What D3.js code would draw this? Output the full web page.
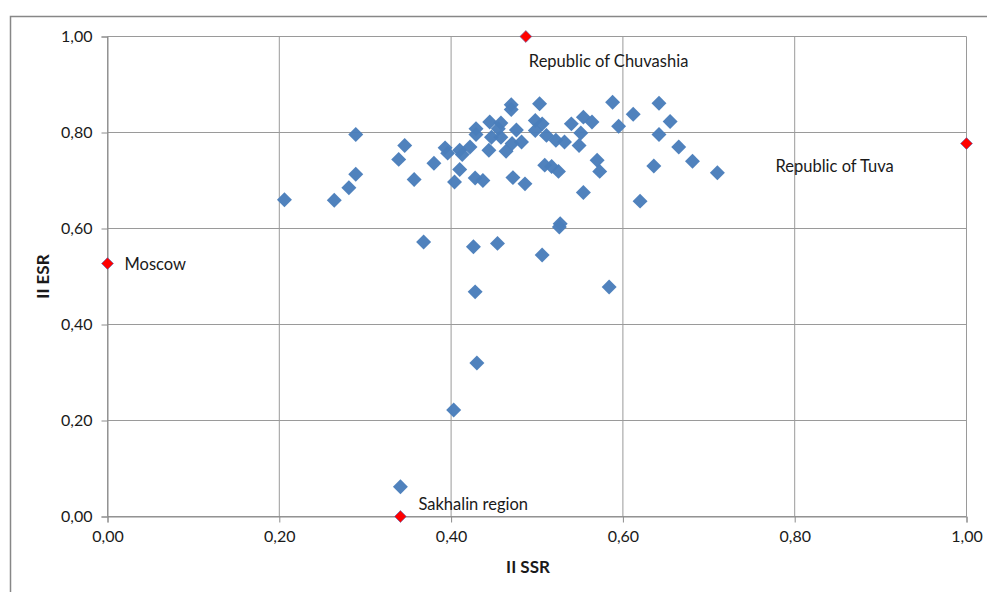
<!DOCTYPE html>
<html>
<head>
<meta charset="utf-8">
<script src="https://cdn.jsdelivr.net/npm/d3@7"></script>
<style>
  body { margin: 0; background: #fff; }
  text { font-family: Lato, "Open Sans", sans-serif; fill: #1a1a1a; }
</style>
</head>
<body>
<div id="chart"></div>
<script>
// regions (blue diamonds)
const ssr = [0.206, 0.264, 0.281, 0.289, 0.289, 0.339, 0.346, 0.357, 0.380, 0.393,
             0.396, 0.404, 0.410, 0.410, 0.413, 0.422, 0.429, 0.429, 0.428, 0.437,
             0.445, 0.447, 0.444, 0.458, 0.455, 0.458, 0.464, 0.470, 0.470, 0.471,
             0.476, 0.472, 0.482, 0.486, 0.498, 0.503, 0.498, 0.506, 0.511, 0.522,
             0.532, 0.509, 0.517, 0.525, 0.540, 0.554, 0.564, 0.551, 0.549, 0.570,
             0.573, 0.554, 0.588, 0.595, 0.612, 0.642, 0.655, 0.642, 0.665, 0.681,
             0.636, 0.710, 0.620, 0.527, 0.526, 0.506, 0.368, 0.426, 0.454, 0.428,
             0.584, 0.430, 0.403, 0.341];
const esr = [0.660, 0.659, 0.685, 0.713, 0.796, 0.744, 0.773, 0.702, 0.736, 0.768,
             0.757, 0.697, 0.723, 0.763, 0.754, 0.770, 0.808, 0.796, 0.705, 0.700,
             0.822, 0.790, 0.763, 0.820, 0.808, 0.790, 0.761, 0.858, 0.848, 0.777,
             0.805, 0.706, 0.780, 0.693, 0.825, 0.860, 0.804, 0.818, 0.794, 0.784,
             0.780, 0.732, 0.729, 0.719, 0.818, 0.832, 0.822, 0.799, 0.773, 0.742,
             0.719, 0.675, 0.863, 0.813, 0.838, 0.861, 0.823, 0.796, 0.770, 0.740,
             0.730, 0.716, 0.657, 0.610, 0.603, 0.545, 0.572, 0.562, 0.569, 0.468,
             0.478, 0.320, 0.222, 0.062];

// highlighted regions (red diamonds)
const redNames = ["Moscow", "Republic of Chuvashia", "Republic of Tuva", "Sakhalin region"];
const redSsr = [0.000, 0.487, 1.000, 0.341];
const redEsr = [0.527, 1.000, 0.777, 0.000];

const tickValues = [0, 0.2, 0.4, 0.6, 0.8, 1.0];
const xTitle = "II SSR";
const yTitle = "II ESR";

function main(){
  const W = 987, H = 592;
  const margin = {top: 36.5, left: 107.5};
  const width = 859, height = 480;

  const svg = d3.select("#chart")
      .append("svg")
      .attr("width", W)
      .attr("height", H);

  // outer chart frame
  svg.append("rect")
      .attr("x", 10.5).attr("y", 16.5)
      .attr("width", 1000).attr("height", 600)
      .attr("fill", "none")
      .attr("stroke", "#878787")
      .attr("stroke-width", 1.5);

  const g = svg.append("g")
      .attr("transform", `translate(${margin.left}, ${margin.top})`);

  const x = d3.scaleLinear().domain([0, 1]).range([0, width]);
  const y = d3.scaleLinear().domain([0, 1]).range([height, 0]);
  const fmt = d => d3.format(".2f")(d).replace(".", ",");

  // grid
  g.append("g").selectAll("line")
    .data(tickValues)
    .join("line")
      .attr("x1", d => x(d)).attr("x2", d => x(d))
      .attr("y1", 0).attr("y2", height)
      .attr("stroke", "#9a9a9a");
  g.append("g").selectAll("line")
    .data(tickValues)
    .join("line")
      .attr("y1", d => y(d)).attr("y2", d => y(d))
      .attr("x1", 0).attr("x2", width)
      .attr("stroke", "#9a9a9a");

  // axes
  const xAxis = g.append("g")
      .attr("transform", `translate(0, ${height})`)
      .call(d3.axisBottom(x).tickValues(tickValues).tickFormat(fmt).tickSize(6).tickPadding(8));
  const yAxis = g.append("g")
      .call(d3.axisLeft(y).tickValues(tickValues).tickFormat(fmt).tickSize(6).tickPadding(9));
  [xAxis, yAxis].forEach(a => {
    a.select(".domain").attr("stroke", "#8c8c8c");
    a.selectAll(".tick line").attr("stroke", "#8c8c8c");
    a.selectAll(".tick text")
      .style("font-family", "Lato, sans-serif")
      .style("font-size", "16px")
      .attr("fill", "#1a1a1a");
  });

  // axis titles
  svg.append("text")
      .attr("x", margin.left + width / 2 - 9)
      .attr("y", 573)
      .attr("text-anchor", "middle")
      .style("font-weight", "bold")
      .style("font-size", "17px")
      .text(xTitle);
  svg.append("text")
      .attr("transform", `translate(49, ${margin.top + height / 2}) rotate(-90)`)
      .attr("text-anchor", "middle")
      .style("font-weight", "bold")
      .style("font-size", "17px")
      .text(yTitle);

  // blue points
  const pts = ssr.map((d, i) => ({x: d, y: esr[i]}));
  g.append("g").selectAll("path")
    .data(pts)
    .join("path")
      .attr("d", d3.symbol(d3.symbolSquare, 112))
      .attr("transform", d => `translate(${x(d.x)}, ${y(d.y)}) rotate(45)`)
      .attr("fill", "#4a7ebb")
      .attr("fill-opacity", 0.97);

  // red points and labels
  const reds = redNames.map((n, i) => ({name: n, x: redSsr[i], y: redEsr[i]}));
  const labelOffsets = {"Moscow": [17, 6], "Republic of Chuvashia": [3, 30],
                        "Republic of Tuva": [-191, 28], "Sakhalin region": [18, -7]};
  g.append("g").selectAll("path")
    .data(reds)
    .join("path")
      .attr("d", d3.symbol(d3.symbolSquare, 70))
      .attr("transform", d => `translate(${x(d.x)}, ${y(d.y)}) rotate(45)`)
      .attr("fill", "#ff0000")
      .attr("stroke", "#6a6fb0")
      .attr("stroke-width", 0.7);

  g.append("g").selectAll("text")
    .data(reds)
    .join("text")
      .attr("x", d => x(d.x) + labelOffsets[d.name][0])
      .attr("y", d => y(d.y) + labelOffsets[d.name][1])
      .style("font-size", "16.5px")
      .text(d => d.name);
}

main();
</script>
</body>
</html>
